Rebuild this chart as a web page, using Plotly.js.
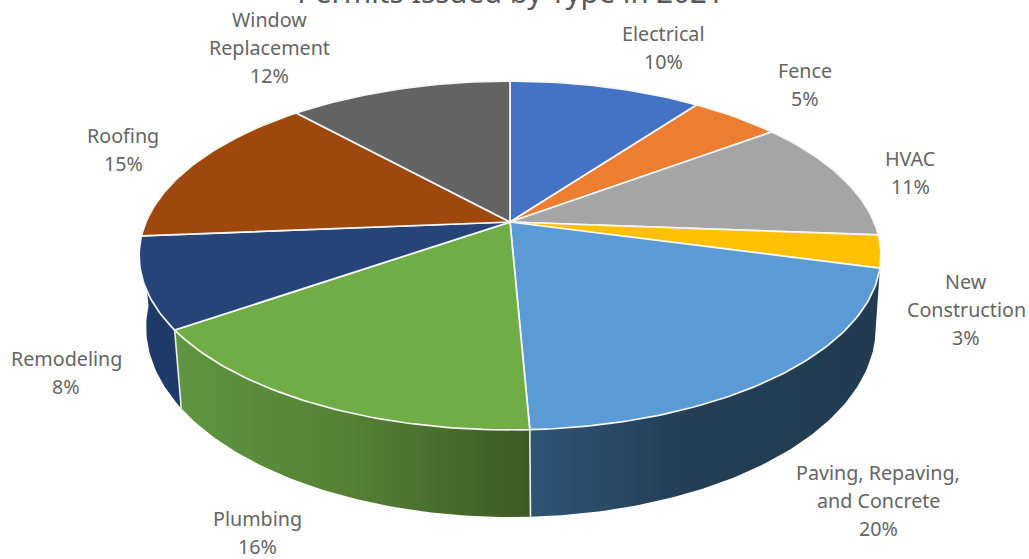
<!DOCTYPE html>
<html>
<head>
<meta charset="utf-8">
<script src="https://cdn.plot.ly/plotly-3.0.1.min.js"></script>
<style>html,body{margin:0;padding:0;background:#fff;overflow:hidden}#chart{width:1029px;height:559px}</style>
</head>
<body>
<div id="chart"></div>
<script>
// ---- data ----
const categories = ['Electrical','Fence','HVAC','New<br>Construction','Paving, Repaving,<br>and Concrete','Plumbing','Remodeling','Roofing','Window<br>Replacement'];
const shares = [10.1, 4.7, 11.4, 3.0, 20.1, 16.0, 8.4, 14.6, 11.7];
const percents = [10, 5, 11, 3, 20, 16, 8, 15, 12];
const topColors = ['#4472C4','#ED7D31','#A5A5A5','#FFC000','#5B9BD5','#70AD47','#264478','#9E480E','#636363'];
// side wall shading: [slice index, colour scale]
const wallIndex = [4, 5, 6];
const wallScales = [
  [[0,'#2F5475'],[0.45,'#233E55'],[1,'#223B50']],
  [[0,'#5F9640'],[0.5,'#558035'],[1,'#3C5A22']],
  [[0,'#1E3A68'],[1,'#1E3A68']]
];
// ---- layout of labels (centre x, y of first line) ----
const labelX = [663, 805, 910, 966, 878, 257, 66, 123, 269];
const labelY = [33, 70, 158, 281, 472, 518, 358, 135, 19];
const lineStep = 28;
// ---- perspective ellipse of the pie ----
const top3d = {cx:510, cy:222, R:364, S:168, k:0.192};
const bot3d = {cx:511, cy:290.5, R:358, S:183, k:0.192};
function pt(g, deg){
  const a = deg*Math.PI/180, u = Math.sin(a), v = Math.cos(a), w = 1+g.k*v;
  return [g.cx+g.R*u/w, g.cy-g.S*v/w];
}
function arc(g, a, b){
  const out = [], n = Math.max(2, Math.ceil(Math.abs(b-a)));
  for(let i=0;i<=n;i++) out.push(pt(g, a+(b-a)*i/n));
  return out;
}
const total = shares.reduce((s,v)=>s+v,0);
const starts = [], ends = [];
shares.reduce((acc,v,i)=>{starts[i]=acc/total*360; ends[i]=(acc+v)/total*360; return acc+v;},0);

const traces = [];
// side walls
wallIndex.forEach((idx,j)=>{
  const poly = arc(top3d, starts[idx], ends[idx]).concat(arc(bot3d, ends[idx], starts[idx]));
  poly.push(poly[0]);
  traces.push({type:'scatter',mode:'lines',x:poly.map(p=>p[0]),y:poly.map(p=>p[1]),
    fill:'toself',line:{width:0,color:'rgba(0,0,0,0)'},
    fillgradient:{type:'horizontal',colorscale:wallScales[j]},hoverinfo:'skip',name:categories[idx]});
});
// dividers between walls
wallIndex.slice(1).forEach(idx=>{
  const a = pt(top3d, starts[idx]), b = pt(bot3d, starts[idx]);
  traces.push({type:'scatter',mode:'lines',x:[a[0],b[0]],y:[a[1],b[1]],line:{color:'#EDEDED',width:1.6},hoverinfo:'skip'});
});
// top surface
shares.forEach((v,i)=>{
  const poly = [[top3d.cx,top3d.cy]].concat(arc(top3d, starts[i], ends[i]));
  poly.push(poly[0]);
  traces.push({type:'scatter',mode:'lines',x:poly.map(p=>p[0]),y:poly.map(p=>p[1]),
    fill:'toself',fillcolor:topColors[i],line:{color:'#F6F6F6',width:1.7},hoverinfo:'text',text:categories[i],name:categories[i]});
});

const annotations = [];
categories.forEach((c,i)=>{
  c.split('<br>').concat([percents[i]+'%']).forEach((line,l)=>{
    annotations.push({x:labelX[i],y:labelY[i]+l*lineStep,xref:'x',yref:'y',text:line,showarrow:false,
      xanchor:'center',yanchor:'middle',font:{family:'"Noto Sans",sans-serif',size:19.7,color:'#656565'}});
  });
});

Plotly.newPlot('chart',traces,{
  width:1029,height:559,margin:{l:0,r:0,t:0,b:0},
  paper_bgcolor:'#fff',plot_bgcolor:'#fff',showlegend:false,
  title:{text:'Permits Issued by Type in 2021',x:0.496,xanchor:'center',y:0.994,yref:'container',yanchor:'bottom',
    font:{family:'"Noto Sans",sans-serif',size:29.4,color:'#595959'}},
  xaxis:{range:[0,1029],visible:false,fixedrange:true},
  yaxis:{range:[559,0],visible:false,fixedrange:true},
  annotations:annotations
},{displayModeBar:false,staticPlot:true});
</script>
</body>
</html>
